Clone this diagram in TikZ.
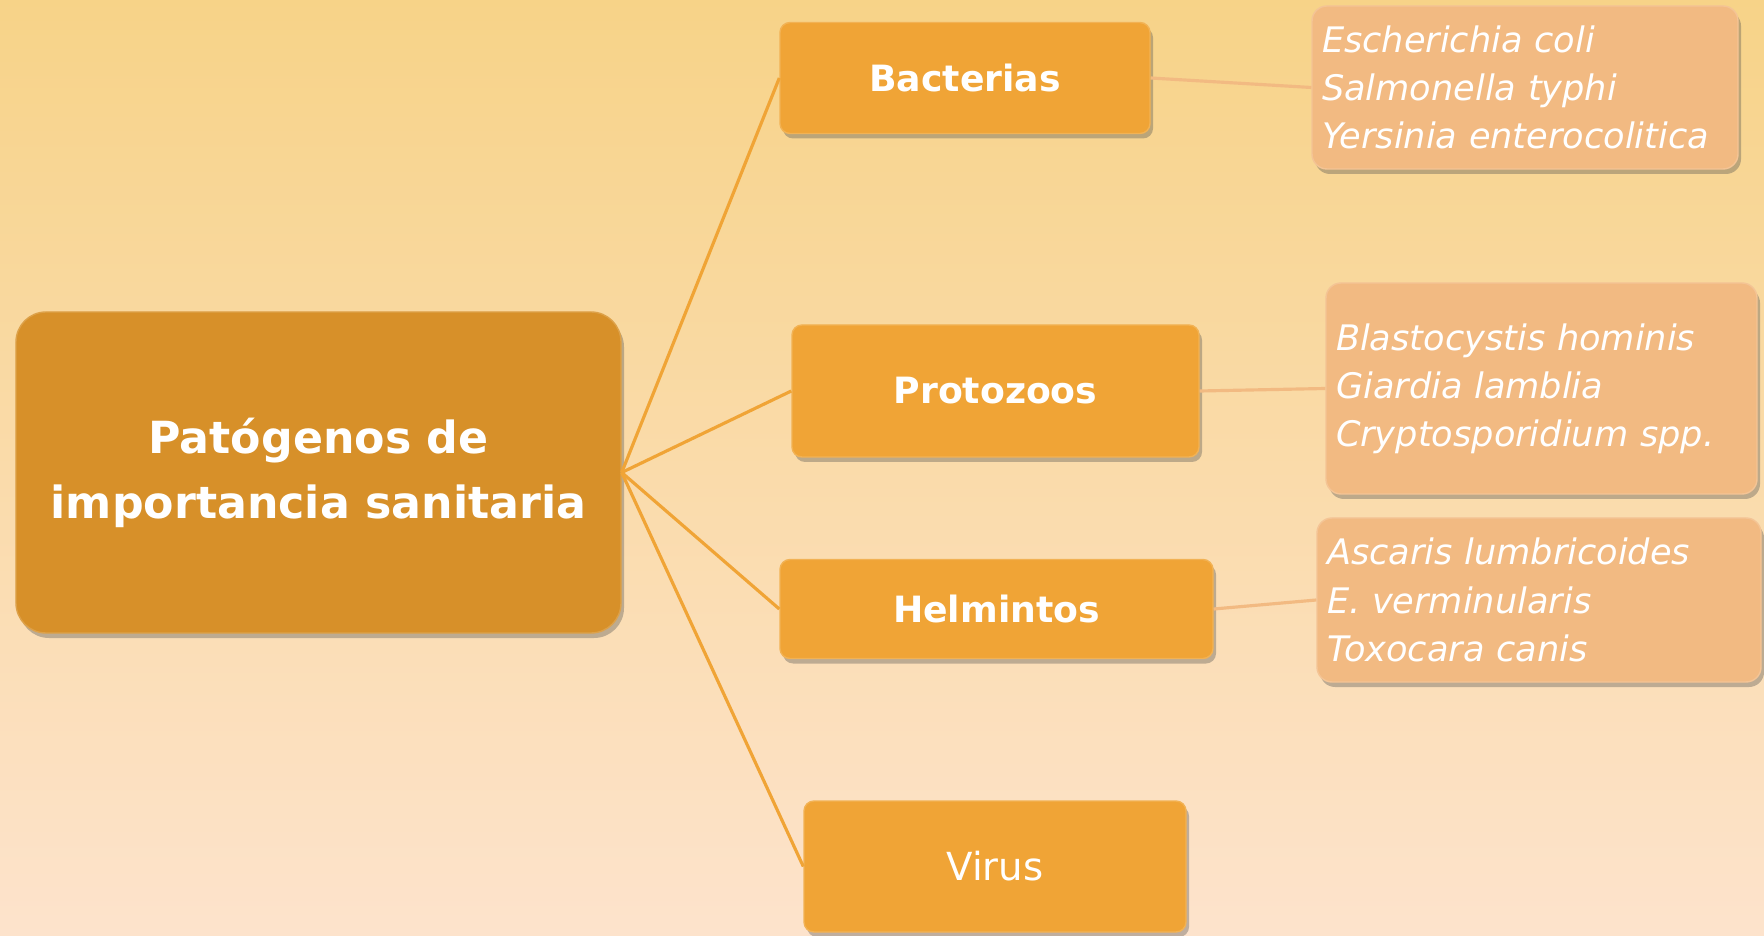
\documentclass[tikz,border=0pt]{standalone}
\usepackage{fontspec}
\setmainfont{DejaVu Sans}
\usepackage{tikz}
\usetikzlibrary{shadows}
\usepackage{xcolor}
\definecolor{bgtop}{HTML}{F7D388}
\definecolor{bgbottom}{HTML}{FDE3CC}
\definecolor{maincol}{HTML}{D79029}
\definecolor{groupcol}{HTML}{F0A436}
\definecolor{listcol}{HTML}{F2BA82}

\begin{document}
\begin{tikzpicture}[
    boxshadow/.style={drop shadow={shadow xshift=0.03cm, shadow yshift=-0.05cm, opacity=0.35, fill=black!70}},
    mainbox/.style={boxshadow, fill=maincol, draw=maincol!85!white, rounded corners=0.3cm, minimum width=6.05cm, minimum height=3.21cm, align=center, text=white, font=\fontsize{12.6}{18.5}\selectfont\bfseries},
    groupbox/.style={boxshadow, fill=groupcol, draw=groupcol!85!white, rounded corners=0.1cm, inner sep=0pt, text=white, font=\fontsize{10.3}{12}\selectfont\bfseries},
    listbox/.style={boxshadow, fill=listcol, draw=listcol!85!white, rounded corners=0.15cm, inner xsep=0.1cm, inner ysep=0pt, align=left, text=white, font=\fontsize{10}{13.7}\selectfont\itshape},
    branch/.style={groupcol, line width=0.9pt},
    leaf/.style={listcol, line width=0.9pt}
]
    % background
    \fill[top color=bgtop, bottom color=bgbottom] (0,0) rectangle (17.64,9.35);
    \useasboundingbox (0,0) rectangle (17.64,9.35);

    \node[mainbox] (pat) at (3.185,4.625) {Patógenos de\\importancia sanitaria};

    \node[groupbox, minimum width=3.70cm, minimum height=1.11cm] (bact) at (9.65,8.57) {Bacterias};
    \node[groupbox, minimum width=4.07cm, minimum height=1.32cm] (proto) at (9.955,5.44) {Protozoos};
    \node[groupbox, minimum width=4.33cm, minimum height=0.99cm] (helm) at (9.965,3.26) {Helmintos};
    \node[groupbox, minimum width=3.82cm, minimum height=1.31cm, font=\fontsize{11}{12}\selectfont] (vir) at (9.95,0.685) {Virus};

    \node[listbox, text width=4.06cm, minimum height=1.63cm] (bactlist) at (15.25,8.475)
        {Escherichia coli\\Salmonella typhi\\Yersinia enterocolitica};
    \node[listbox, text width=4.11cm, minimum height=2.11cm] (protolist) at (15.415,5.465)
        {Blastocystis hominis\\Giardia lamblia\\Cryptosporidium spp.};
    \node[listbox, text width=4.24cm, minimum height=1.64cm] (helmlist) at (15.39,3.35)
        {Ascaris lumbricoides\\E. verminularis\\Toxocara canis};

    \begin{scope}[on background layer/.try]
    \draw[branch] (pat.east) -- (bact.west);
    \draw[branch] (pat.east) -- (proto.west);
    \draw[branch] (pat.east) -- (helm.west);
    \draw[branch] (pat.east) -- (vir.west);
    \draw[leaf] (bact.east) -- (bactlist.west);
    \draw[leaf] (proto.east) -- (protolist.west);
    \draw[leaf] (helm.east) -- (helmlist.west);
    \end{scope}
\end{tikzpicture}
\end{document}
